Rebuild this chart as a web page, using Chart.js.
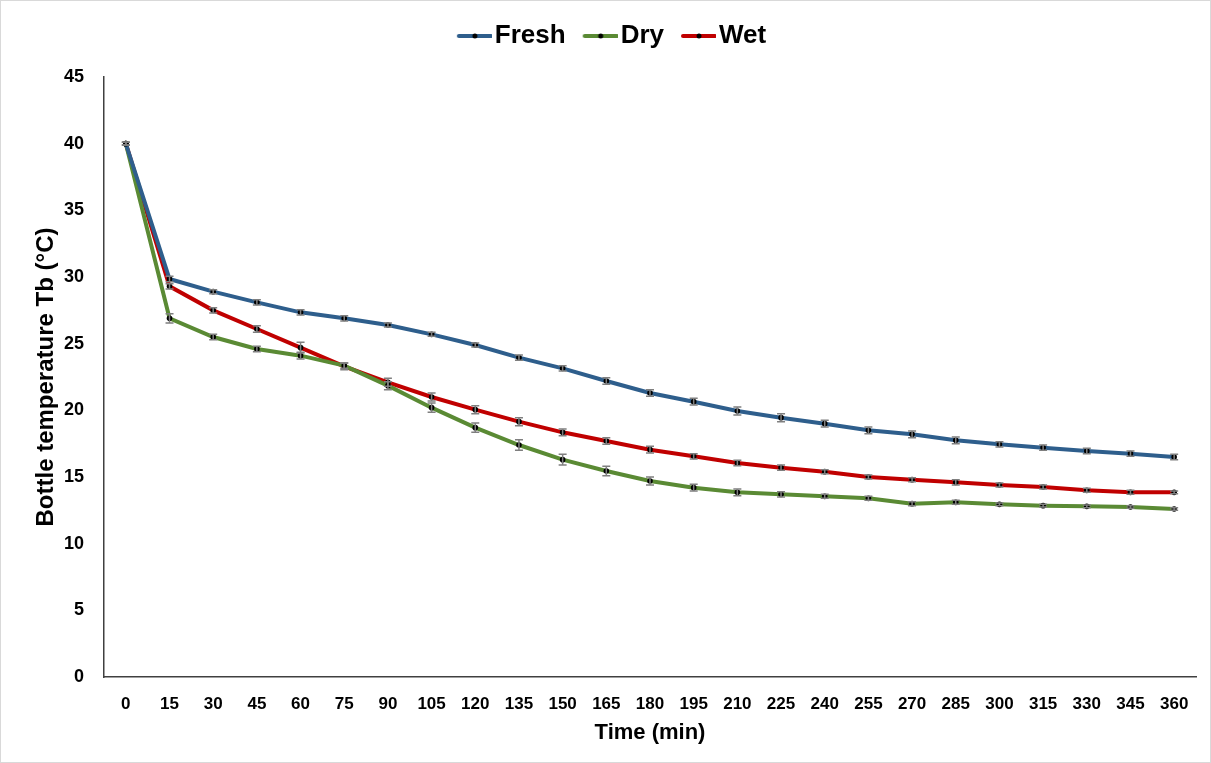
<!DOCTYPE html>
<html>
<head>
<meta charset="utf-8">
<script src="https://cdn.jsdelivr.net/npm/chart.js@4.4.0/dist/chart.umd.min.js"></script>
<style>
  html, body { margin: 0; padding: 0; background: #fff; }
  #wrap { position: relative; width: 1211px; height: 763px; box-sizing: border-box; border: 1px solid #d9d9d9; }
</style>
</head>
<body>
<div id="wrap"><canvas id="myChart" width="1209" height="761"></canvas></div>
<script>
const timeLabels = ["0","15","30","45","60","75","90","105","120","135","150","165","180","195","210","225","240","255","270","285","300","315","330","345","360"];

const freshValues = [40, 29.85, 28.9, 28.1, 27.35, 26.9, 26.4, 25.7, 24.9, 23.95, 23.15, 22.2, 21.3, 20.65, 19.95, 19.45, 19.0, 18.5, 18.2, 17.75, 17.45, 17.2, 16.95, 16.75, 16.5];
const dryValues = [40, 26.9, 25.5, 24.6, 24.1, 23.35, 21.85, 20.2, 18.7, 17.4, 16.3, 15.45, 14.7, 14.2, 13.85, 13.7, 13.55, 13.4, 13.0, 13.1, 12.95, 12.85, 12.8, 12.75, 12.6];
const wetValues = [40, 29.3, 27.5, 26.1, 24.7, 23.3, 22.1, 21.0, 20.05, 19.15, 18.35, 17.7, 17.05, 16.55, 16.05, 15.7, 15.4, 15.0, 14.8, 14.6, 14.4, 14.25, 14.0, 13.85, 13.85];

const freshErr = [0.1, 0.2, 0.15, 0.2, 0.2, 0.2, 0.15, 0.15, 0.15, 0.2, 0.2, 0.25, 0.25, 0.25, 0.3, 0.3, 0.25, 0.25, 0.25, 0.25, 0.2, 0.2, 0.2, 0.2, 0.2];
const dryErr = [0.1, 0.35, 0.2, 0.2, 0.25, 0.2, 0.3, 0.35, 0.35, 0.4, 0.4, 0.35, 0.3, 0.25, 0.25, 0.2, 0.15, 0.15, 0.15, 0.15, 0.1, 0.1, 0.1, 0.1, 0.1];
const wetErr = [0.1, 0.2, 0.2, 0.25, 0.4, 0.25, 0.3, 0.3, 0.3, 0.3, 0.25, 0.25, 0.25, 0.2, 0.2, 0.2, 0.15, 0.15, 0.15, 0.2, 0.15, 0.15, 0.15, 0.15, 0.1];

const seriesNames = ["Fresh", "Dry", "Wet"];
const seriesColors = ["#2e5e8c", "#5a8a34", "#c00000"];

// legend symbol: coloured line with black dot, shifted right so it sits close to the text
const legendIcon = (color) => {
  const c = document.createElement("canvas");
  c.width = 56;
  c.height = 8;
  const g = c.getContext("2d");
  g.strokeStyle = color;
  g.lineWidth = 4;
  g.lineCap = "round";
  g.beginPath();
  g.moveTo(23, 4);
  g.lineTo(55, 4);
  g.stroke();
  g.fillStyle = "#000";
  g.beginPath();
  g.arc(39, 4, 2.5, 0, Math.PI * 2);
  g.fill();
  return c;
};

const errorBars = {
  id: "errorBars",
  afterDatasetsDraw(chart) {
    const ctx = chart.ctx;
    const yScale = chart.scales.y;
    const errs = [freshErr, dryErr, wetErr];
    ctx.save();
    ctx.strokeStyle = "#7f7f7f";
    ctx.lineWidth = 1.5;
    chart.data.datasets.forEach((ds, d) => {
      const meta = chart.getDatasetMeta(d);
      meta.data.forEach((pt, i) => {
        const v = ds.data[i];
        const e = errs[d][i];
        const top = yScale.getPixelForValue(v + e);
        const bot = yScale.getPixelForValue(v - e);
        ctx.beginPath();
        ctx.moveTo(pt.x, top);
        ctx.lineTo(pt.x, bot);
        ctx.moveTo(pt.x - 4, top);
        ctx.lineTo(pt.x + 4, top);
        ctx.moveTo(pt.x - 4, bot);
        ctx.lineTo(pt.x + 4, bot);
        ctx.stroke();
      });
    });
    ctx.restore();
  }
};

// extra room under the legend, and nudge it a little to the left
const legendGap = {
  id: "legendGap",
  beforeInit(chart) {
    const fitOrig = chart.legend.fit;
    chart.legend.fit = function () {
      fitOrig.bind(this)();
      this.height += 18;
    };
  },
  afterLayout(chart) {
    chart.legend.left -= 8;
    chart.legend.right -= 8;
  }
};

const allValues = [freshValues, dryValues, wetValues];

new Chart("myChart", {
  type: "line",
  data: {
    labels: timeLabels,
    datasets: seriesNames.map((name, k) => ({
      label: name,
      data: allValues[k],
      borderColor: seriesColors[k],
      backgroundColor: "#000",
      borderWidth: 4,
      pointRadius: 2.8,
      pointStyle: "circle",
      pointBackgroundColor: "#000",
      pointBorderColor: "#000",
      pointBorderWidth: 0,
      tension: 0
    }))
  },
  options: {
    responsive: false,
    animation: false,
    layout: { padding: { left: 31, right: 14, top: 16, bottom: 16 } },
    plugins: {
      legend: {
        position: "top",
        labels: {
          usePointStyle: true,
          pointStyleWidth: 36,
          boxHeight: 8,
          padding: 6,
          color: "#000",
          font: { family: "'Liberation Sans', Arial, sans-serif", size: 26, weight: "bold" },
          generateLabels(chart) {
            return chart.data.datasets.map((ds, i) => ({
              text: ds.label,
              pointStyle: legendIcon(seriesColors[i]),
              fillStyle: seriesColors[i],
              strokeStyle: seriesColors[i],
              lineWidth: 0,
              datasetIndex: i,
              fontColor: "#000"
            }));
          }
        }
      },
      tooltip: { enabled: false }
    },
    scales: {
      x: {
        offset: true,
        grid: { display: false, drawTicks: false },
        border: { color: "#404040", width: 1.5 },
        afterFit(scale) { scale.height = 69; },
        ticks: {
          color: "#000",
          padding: 17,
          maxRotation: 0,
          autoSkip: false,
          font: { family: "'Liberation Sans', Arial, sans-serif", size: 17, weight: "bold" }
        },
        title: {
          display: true,
          text: "Time (min)",
          color: "#000",
          padding: { top: 0, bottom: 0 },
          font: { family: "'Liberation Sans', Arial, sans-serif", size: 22, weight: "bold" }
        }
      },
      y: {
        min: 0,
        max: 45,
        grid: { display: false, drawTicks: false },
        border: { color: "#404040", width: 1.5 },
        afterFit(scale) { scale.width = 72; },
        ticks: {
          stepSize: 5,
          color: "#000",
          padding: 20,
          font: { family: "'Liberation Sans', Arial, sans-serif", size: 18, weight: "bold" }
        },
        title: {
          display: true,
          text: "Bottle temperature Tb (°C)",
          color: "#000",
          padding: { top: 0, bottom: 0 },
          font: { family: "'Liberation Sans', Arial, sans-serif", size: 24, weight: "bold" }
        }
      }
    }
  },
  plugins: [errorBars, legendGap]
});
</script>
</body>
</html>
